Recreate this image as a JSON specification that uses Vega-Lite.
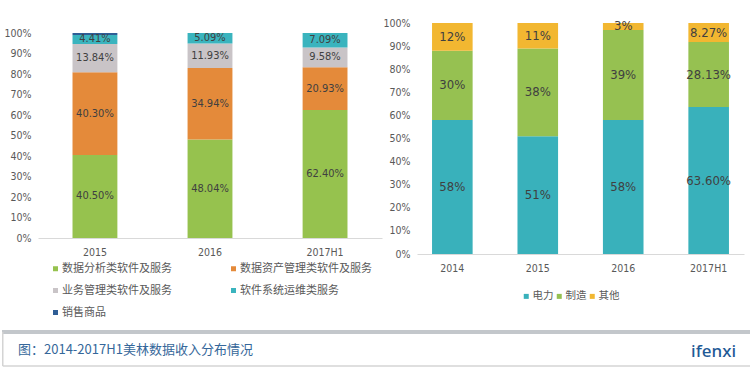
{
  "$schema": "https://vega.github.io/schema/vega-lite/v6.json",
  "padding": {"left": 0, "top": 18, "right": 0, "bottom": 0},
  "background": "white",
  "config": {
    "view": {"stroke": null},
    "font": "DejaVu Sans Condensed, DejaVu Sans, sans-serif",
    "axis": {"labelColor": "#595959", "labelFontSize": 10.5, "ticks": false, "grid": false, "title": null, "labelFont": "DejaVu Sans Condensed, DejaVu Sans, sans-serif"},
    "legend": {"labelFont": "Noto Sans CJK SC", "labelColor": "#595959", "symbolType": "square", "symbolSize": 25, "symbolStrokeWidth": 0, "title": null, "labelOffset": 1}
  },
  "align": "none",
  "vconcat": [
    {
      "resolve": {"scale": {"color": "independent"}, "legend": {"color": "independent"}},
      "hconcat": [
        {
          "width": 344,
          "height": 215,
          "data": {"values": [
            {"year": "2015", "cat": "数据分析类软件及服务", "v": 40.50, "label": "40.50%", "i": 1},
            {"year": "2015", "cat": "数据资产管理类软件及服务", "v": 40.30, "label": "40.30%", "i": 2},
            {"year": "2015", "cat": "业务管理类软件及服务", "v": 13.84, "label": "13.84%", "i": 3},
            {"year": "2015", "cat": "软件系统运维类服务", "v": 4.41, "label": "4.41%", "i": 4},
            {"year": "2015", "cat": "销售商品", "v": 0.95, "label": "", "i": 5},
            {"year": "2016", "cat": "数据分析类软件及服务", "v": 48.04, "label": "48.04%", "i": 1},
            {"year": "2016", "cat": "数据资产管理类软件及服务", "v": 34.94, "label": "34.94%", "i": 2},
            {"year": "2016", "cat": "业务管理类软件及服务", "v": 11.93, "label": "11.93%", "i": 3},
            {"year": "2016", "cat": "软件系统运维类服务", "v": 5.09, "label": "5.09%", "i": 4},
            {"year": "2017H1", "cat": "数据分析类软件及服务", "v": 62.40, "label": "62.40%", "i": 1},
            {"year": "2017H1", "cat": "数据资产管理类软件及服务", "v": 20.93, "label": "20.93%", "i": 2},
            {"year": "2017H1", "cat": "业务管理类软件及服务", "v": 9.58, "label": "9.58%", "i": 3},
            {"year": "2017H1", "cat": "软件系统运维类服务", "v": 7.09, "label": "7.09%", "i": 4}
          ]},
          "encoding": {
            "x": {"field": "year", "type": "nominal", "sort": null,
                  "scale": {"paddingInner": 0.61, "paddingOuter": 0.3},
                  "axis": {"labelAngle": 0, "domainColor": "#d9d9d9", "labelPadding": 9}},
            "y": {"field": "v", "type": "quantitative", "stack": "zero",
                  "scale": {"domain": [0, 104.88], "nice": false},
                  "axis": {"values": [0, 10, 20, 30, 40, 50, 60, 70, 80, 90, 100], "labelExpr": "datum.value + '%'", "domain": false, "minExtent": 36, "maxExtent": 36, "labelPadding": 7}},
            "order": {"field": "i", "type": "quantitative"}
          },
          "layer": [
            {
              "mark": {"type": "bar"},
              "encoding": {
                "color": {"field": "cat", "type": "nominal",
                  "scale": {"domain": ["数据分析类软件及服务", "数据资产管理类软件及服务", "业务管理类软件及服务", "软件系统运维类服务", "销售商品"],
                            "range": ["#96C24E", "#E48A3A", "#C9C4C7", "#3AB4BE", "#2F5E96"]},
                  "legend": {"orient": "none", "legendX": 12, "legendY": 240, "columns": 2, "direction": "horizontal", "labelFontSize": 11, "columnPadding": 56, "rowPadding": 10}}
              }
            },
            {
              "mark": {"type": "text", "fontSize": 11, "color": "#404040"},
              "encoding": {
                "y": {"field": "v", "type": "quantitative", "stack": "zero", "bandPosition": 0.5},
                "text": {"field": "label"}
              }
            }
          ]
        },
        {
          "width": 327,
          "height": 231,
          "data": {"values": [
            {"year": "2014", "cat": "电力", "v": 58, "label": "58%", "i": 1},
            {"year": "2014", "cat": "制造", "v": 30, "label": "30%", "i": 2},
            {"year": "2014", "cat": "其他", "v": 12, "label": "12%", "i": 3},
            {"year": "2015", "cat": "电力", "v": 51, "label": "51%", "i": 1},
            {"year": "2015", "cat": "制造", "v": 38, "label": "38%", "i": 2},
            {"year": "2015", "cat": "其他", "v": 11, "label": "11%", "i": 3},
            {"year": "2016", "cat": "电力", "v": 58, "label": "58%", "i": 1},
            {"year": "2016", "cat": "制造", "v": 39, "label": "39%", "i": 2},
            {"year": "2016", "cat": "其他", "v": 3, "label": "3%", "i": 3},
            {"year": "2017H1", "cat": "电力", "v": 63.60, "label": "63.60%", "i": 1},
            {"year": "2017H1", "cat": "制造", "v": 28.13, "label": "28.13%", "i": 2},
            {"year": "2017H1", "cat": "其他", "v": 8.27, "label": "8.27%", "i": 3}
          ]},
          "encoding": {
            "x": {"field": "year", "type": "nominal", "sort": null,
                  "scale": {"paddingInner": 0.525, "paddingOuter": 0.176},
                  "axis": {"labelAngle": 0, "domainColor": "#d9d9d9", "labelPadding": 9}},
            "y": {"field": "v", "type": "quantitative", "stack": "zero",
                  "scale": {"domain": [0, 100], "nice": false},
                  "axis": {"values": [0, 10, 20, 30, 40, 50, 60, 70, 80, 90, 100], "labelExpr": "datum.value + '%'", "domain": false, "minExtent": 28, "maxExtent": 28, "labelPadding": 7}},
            "order": {"field": "i", "type": "quantitative"}
          },
          "layer": [
            {
              "mark": {"type": "bar"},
              "encoding": {
                "color": {"field": "cat", "type": "nominal",
                  "scale": {"domain": ["电力", "制造", "其他"], "range": ["#39B1BB", "#96C151", "#F2B731"]},
                  "legend": {"orient": "none", "legendX": 104, "legendY": 268, "direction": "horizontal", "labelFontSize": 10.5, "columnPadding": -7}}
              }
            },
            {
              "mark": {"type": "text", "fontSize": 13, "color": "#404040"},
              "encoding": {
                "y": {"field": "v", "type": "quantitative", "stack": "zero", "bandPosition": 0.5},
                "text": {"field": "label"}
              }
            }
          ]
        }
      ],
      "spacing": 0
    },
    {
      "width": 714,
      "height": 34,
      "layer": [
        {
          "data": {"values": [{}]},
          "mark": {"type": "rule", "color": "#c3c7cb", "strokeWidth": 4},
          "encoding": {
            "x": {"datum": 0, "type": "quantitative", "scale": {"domain": [0.048, 1], "nice": false, "zero": false}, "axis": null},
            "x2": {"datum": 1},
            "y": {"datum": 1, "type": "quantitative", "scale": {"domain": [0, 1]}, "axis": null}
          }
        },
        {
          "data": {"values": [{}]},
          "mark": {"type": "rule", "color": "#d4d4d4", "strokeWidth": 1.5},
          "encoding": {
            "x": {"datum": 0.001, "type": "quantitative"},
            "x2": {"datum": 0.999},
            "y": {"datum": 0, "type": "quantitative"}
          }
        },
        {
          "data": {"values": [{}]},
          "mark": {"type": "rule", "color": "#d4d4d4", "strokeWidth": 1.5},
          "encoding": {
            "x": {"datum": 0.001, "type": "quantitative"},
            "y": {"datum": 0, "type": "quantitative"},
            "y2": {"datum": 1}
          }
        },
        {
          "data": {"values": [{}]},
          "mark": {"type": "rule", "color": "#d4d4d4", "strokeWidth": 1.5},
          "encoding": {
            "x": {"datum": 0.999, "type": "quantitative"},
            "y": {"datum": 0, "type": "quantitative"},
            "y2": {"datum": 1}
          }
        },
        {
          "data": {"values": [{"caption": "图：2014-2017H1美林数据收入分布情况"}]},
          "mark": {"type": "text", "align": "left", "baseline": "middle", "dx": 16, "fontSize": 13, "font": "Noto Sans CJK SC", "color": "#35679A"},
          "encoding": {
            "x": {"datum": 0, "type": "quantitative"},
            "y": {"datum": 0.47, "type": "quantitative"},
            "text": {"field": "caption"}
          }
        },
        {
          "data": {"values": [{"logo": "ifenxi"}]},
          "mark": {"type": "text", "align": "right", "baseline": "middle", "dx": -16, "fontSize": 17, "font": "Noto Sans", "fontWeight": 500, "color": "#1F5A96"},
          "encoding": {
            "x": {"datum": 1, "type": "quantitative"},
            "y": {"datum": 0.42, "type": "quantitative"},
            "text": {"field": "logo"}
          }
        }
      ]
    }
  ],
  "spacing": 12
}
